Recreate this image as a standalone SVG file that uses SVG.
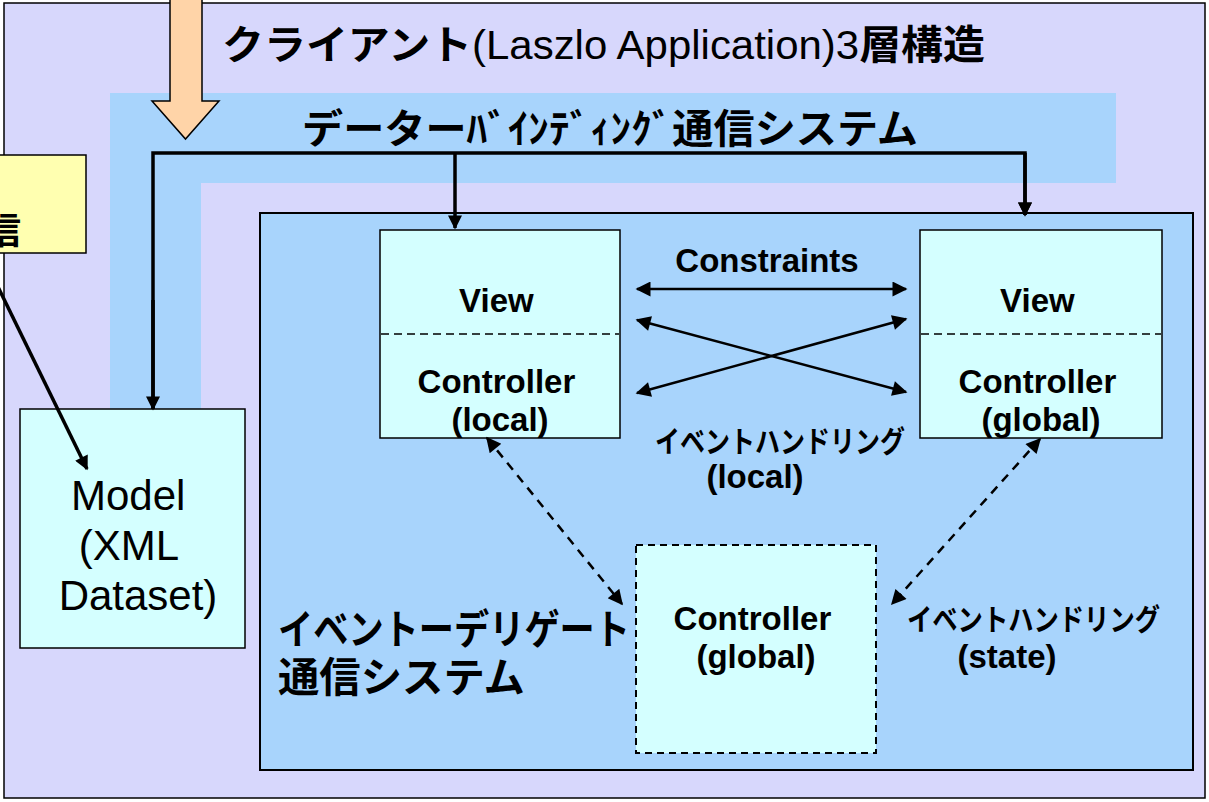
<svg xmlns="http://www.w3.org/2000/svg" width="1209" height="802" viewBox="0 0 1209 802">
  <defs>
    <style>
      .jp { font-family: 'Noto Sans CJK JP', 'Liberation Sans', sans-serif; font-weight: 700; fill: #000; }
      .lat { font-family: 'Liberation Sans', Arial, sans-serif; fill: #000; }
      .b { font-weight: 700; }
      .box { fill: #D4FFFF; stroke: #000; stroke-width: 1.5; }
      .sep { stroke: #000; stroke-width: 1.5; stroke-dasharray: 8 5; fill: none; }
      .conn { stroke: #000; stroke-width: 3.5; fill: none; }
      .thin { stroke: #000; stroke-width: 2.5; fill: none; }
      .dash { stroke: #000; stroke-width: 2.5; fill: none; stroke-dasharray: 9 7; }
    </style>
    <marker id="head" viewBox="0 0 10 10" refX="9" refY="5" markerWidth="7" markerHeight="6" markerUnits="strokeWidth" orient="auto-start-reverse">
      <path d="M0,0 L10,5 L0,10 z" fill="#000"/>
    </marker>
    <marker id="headB" viewBox="0 0 10 10" refX="9" refY="5" markerWidth="4.5" markerHeight="4" markerUnits="strokeWidth" orient="auto-start-reverse">
      <path d="M0,0 L10,5 L0,10 z" fill="#000"/>
    </marker>
  </defs>

  <!-- client application frame -->
  <g id="client">
    <rect x="4" y="3" width="1201" height="795" fill="#D7D7FC" stroke="#000" stroke-width="1.5"/>
    <text class="jp" x="222" y="59" font-size="40" textLength="763" lengthAdjust="spacingAndGlyphs">クライアント<tspan class="lat" font-weight="400">(Laszlo Application)3</tspan>層構造</text>
  </g>

  <!-- data binding band -->
  <g id="databinding">
    <path d="M110,93 H1116 V183 H201 V409 H110 Z" fill="#A8D4FC"/>
    <text class="jp" x="302" y="143" font-size="40" textLength="616" lengthAdjust="spacingAndGlyphs">データーﾊﾞｲﾝﾃﾞｨﾝｸﾞ通信システム</text>
  </g>

  <!-- server side note -->
  <g id="server">
    <rect x="-4" y="155" width="90" height="98" fill="#FFFFB0" stroke="#000" stroke-width="1.5"/>
    <text class="jp" x="21" y="244" font-size="36" text-anchor="end">通信</text>
  </g>

  <!-- request arrow -->
  <g id="request">
    <path d="M170,-2 V101 H152 L185.5,139 L219,101 H202 V-2" fill="#FFD4A8" stroke="#000" stroke-width="1.5"/>
  </g>

  <!-- event delegate area -->
  <g id="eventdelegate">
    <rect x="260" y="213" width="933" height="557" fill="#A8D4FC" stroke="#000" stroke-width="2"/>
    <text class="jp" font-size="41">
      <tspan x="278" y="644" textLength="352" lengthAdjust="spacingAndGlyphs">イベントーデリゲート</tspan>
      <tspan x="278" y="692" textLength="247" lengthAdjust="spacingAndGlyphs">通信システム</tspan>
    </text>
  </g>

  <!-- model -->
  <g id="model">
    <rect class="box" x="20" y="409" width="225" height="239"/>
    <text class="lat" font-size="42" text-anchor="middle">
      <tspan x="134" y="510">Model</tspan>
      <tspan x="134" y="560">(XML</tspan>
      <tspan x="138" y="610">Dataset)</tspan>
    </text>
  </g>

  <!-- local view / controller -->
  <g id="view-local">
    <rect class="box" x="380" y="230" width="240" height="208"/>
    <line class="sep" x1="381" y1="334" x2="619" y2="334"/>
    <text class="lat b" font-size="33" text-anchor="middle">
      <tspan x="501" y="312">View</tspan>
      <tspan x="501" y="393">Controller</tspan>
      <tspan x="500" y="431">(local)</tspan>
    </text>
  </g>

  <!-- global view / controller -->
  <g id="view-global">
    <rect class="box" x="920" y="230" width="242" height="208"/>
    <line class="sep" x1="921" y1="334" x2="1161" y2="334"/>
    <text class="lat b" font-size="33" text-anchor="middle">
      <tspan x="1042" y="312">View</tspan>
      <tspan x="1042" y="393">Controller</tspan>
      <tspan x="1041" y="431">(global)</tspan>
    </text>
  </g>

  <!-- global controller -->
  <g id="controller-global">
    <rect x="636" y="545" width="240" height="208" fill="#D4FFFF" stroke="#000" stroke-width="2" stroke-dasharray="7 5"/>
    <text class="lat b" font-size="33" text-anchor="middle">
      <tspan x="757" y="630">Controller</tspan>
      <tspan x="756" y="668">(global)</tspan>
    </text>
  </g>

  <!-- connector labels -->
  <g id="labels">
    <text class="lat b" x="767" y="272" font-size="33" text-anchor="middle">Constraints</text>
    <text class="jp" x="655" y="452" font-size="30" textLength="250" lengthAdjust="spacingAndGlyphs">イベントハンドリング</text>
    <text class="lat b" x="755" y="488" font-size="33" text-anchor="middle">(local)</text>
    <text class="jp" x="907" y="630" font-size="30" textLength="253" lengthAdjust="spacingAndGlyphs">イベントハンドリング</text>
    <text class="lat b" x="1007" y="668" font-size="33" text-anchor="middle">(state)</text>
  </g>

  <!-- connectors -->
  <g id="connectors">
    <path class="conn" d="M153,409 V153 H1025 V215" marker-end="url(#headB)"/>
    <path class="conn" d="M1025,153 V215" marker-end="url(#headB)"/>
    <path class="conn" d="M455,153 V228" marker-end="url(#headB)"/>
    <path class="conn" d="M153,300 V409" marker-end="url(#headB)"/>
    <line class="conn" x1="-2" y1="287" x2="87" y2="469" marker-end="url(#headB)"/>
    <line class="thin" x1="637" y1="289" x2="906" y2="289" marker-start="url(#head)" marker-end="url(#head)"/>
    <line class="thin" x1="637" y1="320" x2="906" y2="392" marker-start="url(#head)" marker-end="url(#head)"/>
    <line class="thin" x1="637" y1="393" x2="906" y2="319" marker-start="url(#head)" marker-end="url(#head)"/>
    <line class="dash" x1="487" y1="438" x2="622" y2="604" marker-start="url(#head)" marker-end="url(#head)"/>
    <line class="dash" x1="1040" y1="439" x2="892" y2="604" marker-start="url(#head)" marker-end="url(#head)"/>
  </g>
</svg>
